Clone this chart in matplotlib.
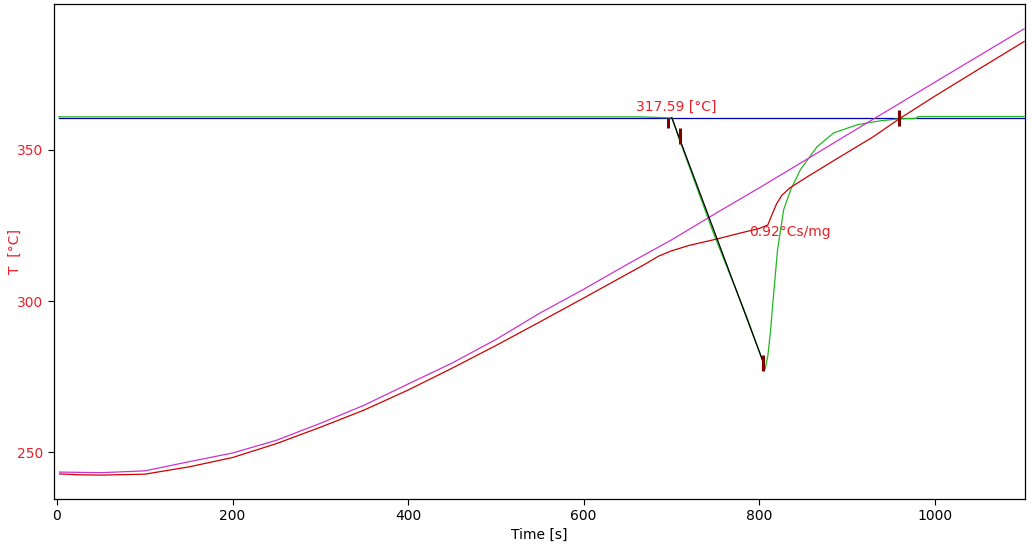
import matplotlib
matplotlib.use("Agg")
import matplotlib.pyplot as plt

# Program temperature (magenta)
prog_t = [3, 25, 50, 100, 150, 200, 250, 300, 350, 400, 450, 500, 550, 600, 650,
          700, 750, 800, 850, 900, 950, 1000, 1050, 1102]
prog_T = [243.5, 243.4, 243.3, 243.9, 246.9, 249.8, 254.0, 259.6, 265.6, 272.6, 279.5,
          287.3, 296.0, 303.9, 312.2, 320.2, 328.9, 337.4, 346.1, 354.9, 363.6, 372.3,
          381.0, 390.0]

# Sample temperature (red)
samp_t = [3, 25, 50, 100, 150, 200, 250, 300, 350, 400, 450, 500, 550, 600, 650, 670,
          685, 700, 720, 750, 780, 800, 810, 815, 820, 826, 835, 855, 890, 930, 960, 1000,
          1050, 1102]
samp_T = [242.9, 242.6, 242.5, 242.8, 245.2, 248.3, 252.9, 258.3, 264.0, 270.6, 277.8,
          285.3, 293.1, 301.0, 309.0, 312.2, 314.8, 316.6, 318.4, 320.4, 322.6, 324.0,
          325.2, 328.8, 332.2, 335.0, 337.4, 341.1, 347.3, 354.3, 360.3, 367.7, 376.6,
          385.8]

# Derived signal (green)
sig_t = [2, 300, 664, 696, 701, 708, 721, 748, 786, 805, 807, 810, 813, 816, 821, 828,
         836, 847, 866, 885, 912, 938, 958, 979, 981, 1102]
sig_T = [360.9, 360.9, 360.9, 360.6, 360.6, 354.3, 344.0, 322.5, 294.8, 279.5, 277.6,
         282.0, 290.0, 300.4, 316.9, 330.2, 336.8, 343.4, 351.0, 355.6, 358.3, 359.6,
         360.2, 360.4, 361.0, 361.0]

# Baseline (blue) and tangent (black)
base_t = [2, 1102]
base_T = [360.6, 360.6]
tan_t = [700.5, 805.0]
tan_T = [360.6, 279.6]

# Markers (dark red)
mark_t = [696.0, 710.3, 805.0, 959.6]
mark_T = [359.0, 354.5, 279.4, 360.6]

onset_label = "317.59 [°C]"
onset_pos = (659.5, 364.2)
area_label = "0.92°Cs/mg"
area_pos = (789.0, 323.0)

fig = plt.figure(figsize=(10.32, 5.44), dpi=100)
ax = fig.add_axes([54 / 1032, 1 - 499 / 544, (1025 - 54) / 1032, (499 - 4) / 544])

lw = 0.9
ax.plot(base_t, base_T, color="#0000a8", lw=lw, zorder=2)
ax.plot(sig_t, sig_T, color="#22b822", lw=lw, zorder=3)
ax.plot(tan_t, tan_T, color="#000000", lw=lw, zorder=4)
ax.plot(prog_t, prog_T, color="#cc33cc", lw=lw, zorder=3)
ax.plot(samp_t, samp_T, color="#cc0000", lw=lw, zorder=3)
ax.plot(mark_t[0:1], mark_T[0:1], ls="none", marker="|", color="#800000", ms=7.5, mew=2.2, zorder=5)
ax.plot(mark_t[1:], mark_T[1:], ls="none", marker="|", color="#800000", ms=12, mew=2.2, zorder=5)

ax.text(onset_pos[0], onset_pos[1], onset_label, color="#e8202a", fontsize=10,
        ha="left", va="center", zorder=6)
ax.text(area_pos[0], area_pos[1], area_label, color="#e8202a", fontsize=10,
        ha="left", va="center", zorder=6)

ax.set_xlim(-3.4, 1103)
ax.set_ylim(234.6, 398.2)
ax.set_xticks([0, 200, 400, 600, 800, 1000])
ax.set_yticks([250, 300, 350])
ax.tick_params(axis="x", labelsize=10, length=4, width=0.8, colors="black")
ax.tick_params(axis="y", labelsize=10, length=4, width=0.8, labelcolor="#e8202a")
for s in ax.spines.values():
    s.set_linewidth(0.9)

ax.set_xlabel("Time [s]", fontsize=10, labelpad=3)
ax.set_ylabel("T  [°C]", fontsize=10, color="#e8202a")
ax.yaxis.set_label_coords(-(54 - 22) / 971, 0.5)

fig.savefig("out.png", dpi=100)
